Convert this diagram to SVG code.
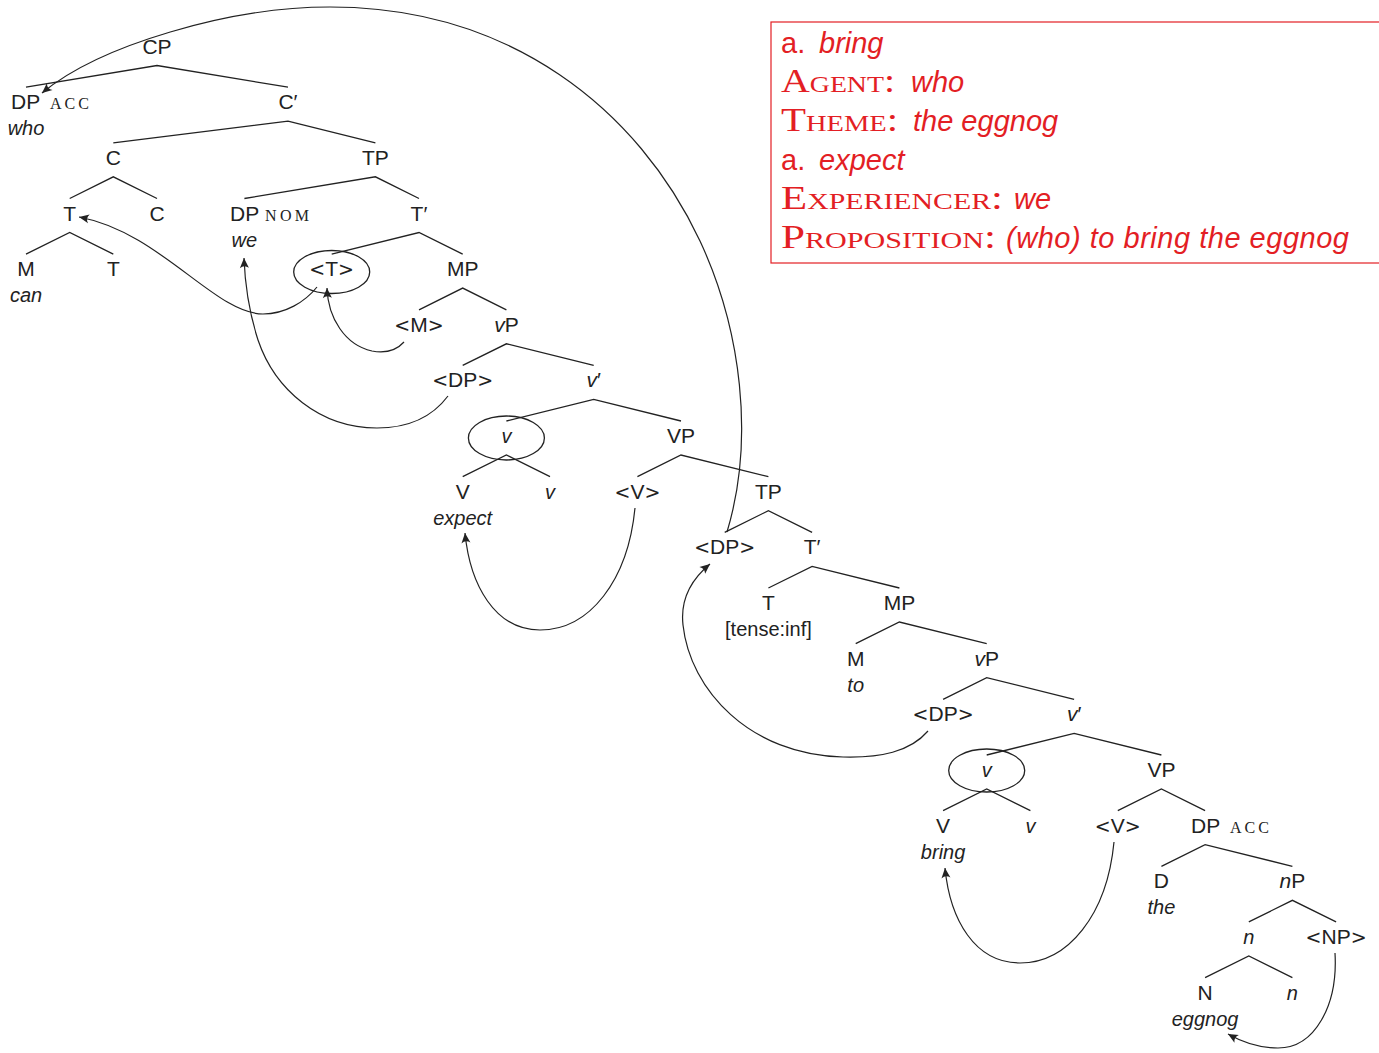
<svg xmlns="http://www.w3.org/2000/svg" width="1379" height="1053" viewBox="0 0 1379 1053">
<style>
.lbl{font-family:"Liberation Sans",Arial,sans-serif;font-size:21px;fill:#222;text-anchor:middle}
.br{font-family:"DejaVu Sans",sans-serif;font-size:19px}
.it{font-family:"Liberation Sans",Arial,sans-serif;font-size:20px;font-style:italic;fill:#222;text-anchor:middle}
.sc{font-family:"Liberation Serif","Times New Roman",serif;font-size:16px;fill:#222}
.edge{stroke:#222;stroke-width:1.3;fill:none}
.arr{stroke:#222;stroke-width:1.2;fill:none;marker-end:url(#ah)}
.circ{fill:none;stroke:#222;stroke-width:1.3}
.red{fill:#e31e24}
.rs{font-family:"Liberation Sans",Arial,sans-serif;font-size:29px}
.ri{font-family:"Liberation Sans",Arial,sans-serif;font-size:29px;font-style:italic}
.rc{font-family:"Liberation Serif","Times New Roman",serif;font-size:33px;font-variant:small-caps}
</style>
<defs>
<marker id="ah" viewBox="-12 -6 14 12" refX="0" refY="0" markerWidth="14" markerHeight="12" markerUnits="userSpaceOnUse" orient="auto">
<path d="M0,0 L-10,-4.5 Q-6.5,0 -10,4.5 Z" fill="#222"/>
</marker>
</defs>
<rect width="1379" height="1053" fill="#fff"/>

<g id="connectors">
<g id="tree-edges" class="edge">
<polyline points="26,87.2 157,65.5 288,87.2"/>
<polyline points="113.3,142.8 288,121.2 375.4,142.8"/>
<polyline points="69.7,198.5 113.3,176.8 157,198.5"/>
<polyline points="244.4,198.5 375.4,176.8 419,198.5"/>
<polyline points="26,254.1 69.7,232.5 113.3,254.1"/>
<polyline points="331.7,254.1 419,232.5 462.7,254.1"/>
<polyline points="419,309.8 462.7,288.1 506.4,309.8"/>
<polyline points="462.7,365.4 506.4,343.8 593.7,365.4"/>
<polyline points="506.4,421 593.7,399.4 681,421"/>
<polyline points="462.7,476.7 506.4,455 550,476.7"/>
<polyline points="637.4,476.7 681,455 768.4,476.7"/>
<polyline points="724.7,532.4 768.4,510.7 812.1,532.4"/>
<polyline points="768.4,588 812.1,566.4 899.4,588"/>
<polyline points="855.7,643.7 899.4,622 986.7,643.7"/>
<polyline points="943.1,699.3 986.7,677.7 1074.1,699.3"/>
<polyline points="986.7,755 1074.1,733.3 1161.4,755"/>
<polyline points="943.1,810.6 986.7,789 1030.4,810.6"/>
<polyline points="1117.8,810.6 1161.4,789 1205.1,810.6"/>
<polyline points="1161.4,866.3 1205.1,844.6 1292.4,866.3"/>
<polyline points="1248.8,921.9 1292.4,900.3 1336.1,921.9"/>
<polyline points="1205.1,977.6 1248.8,955.9 1292.4,977.6"/>
</g>
<g id="movement-arrows">
<path class="arr" d="M727,532 C755,439 741,329 700,241 C638,109 510,7 330,7 C230,7 100,45 42,93"/>
<path class="arr" d="M317,287 C305,302 285,314 263,314 C215,314 160,232 79,217"/>
<path class="arr" d="M448,396 C430,420 405,428 377,428 C320,428 275,390 258,340 C250,315 245,285 244,258"/>
<path class="arr" d="M404,342 C395,352 383,353 372,351 C345,345 328,318 327,288"/>
<path class="arr" d="M635,508 C628,580 590,630 540,630 C495,630 470,585 465,533"/>
<path class="arr" d="M928,731 C910,752 880,758 843,757 C750,755 690,690 683,625 C680,598 693,578 710,564"/>
<path class="arr" d="M1114,842 C1107,915 1068,963 1020,963 C975,963 950,920 945,868"/>
<path class="arr" d="M1335,953 C1338,1005 1315,1048 1278,1048 C1258,1048 1242,1042 1228,1034"/>
</g>
</g>

<g id="n-CP"><text class="lbl" x="157" y="53.5">CP</text></g>
<g id="n-DPacc1"><text class="lbl" x="11" y="109.2" style="text-anchor:start">DP</text><text class="sc" x="50" y="109.2" textLength="39" lengthAdjust="spacing">ACC</text><text class="it" x="26" y="135.2">who</text></g>
<g id="n-Cbar"><text class="lbl" x="288" y="109.2">C′</text></g>
<g id="n-C1"><text class="lbl" x="113.3" y="164.8">C</text></g>
<g id="n-TP1"><text class="lbl" x="375.4" y="164.8">TP</text></g>
<g id="n-T1"><text class="lbl" x="69.7" y="220.5">T</text></g>
<g id="n-C2"><text class="lbl" x="157" y="220.5">C</text></g>
<g id="n-DPnom"><text class="lbl" x="230" y="220.5" style="text-anchor:start">DP</text><text class="sc" x="265" y="220.5" textLength="44" lengthAdjust="spacing">NOM</text><text class="it" x="244.4" y="246.5">we</text></g>
<g id="n-Tbar1"><text class="lbl" x="419" y="220.5">T′</text></g>
<g id="n-M1"><text class="lbl" x="26" y="276.1">M</text><text class="it" x="26" y="302.1">can</text></g>
<g id="n-T2"><text class="lbl" x="113.3" y="276.1">T</text></g>
<g id="n-Ttrace"><ellipse class="circ" cx="331.7" cy="272" rx="38" ry="21.5"/><text class="lbl" x="331.7" y="276.1"><tspan class="br">&lt;</tspan>T<tspan class="br">&gt;</tspan></text></g>
<g id="n-MP1"><text class="lbl" x="462.7" y="276.1">MP</text></g>
<g id="n-Mtrace"><text class="lbl" x="419" y="331.8"><tspan class="br">&lt;</tspan>M<tspan class="br">&gt;</tspan></text></g>
<g id="n-vP1"><text class="lbl" x="506.4" y="331.8"><tspan font-style="italic">v</tspan>P</text></g>
<g id="n-DPtrace1"><text class="lbl" x="462.7" y="387.4"><tspan class="br">&lt;</tspan>DP<tspan class="br">&gt;</tspan></text></g>
<g id="n-vbar1"><text class="lbl" x="593.7" y="387.4"><tspan font-style="italic">v</tspan>′</text></g>
<g id="n-v1"><ellipse class="circ" cx="506.4" cy="438" rx="38" ry="22"/><text class="it" x="506.4" y="443.1">v</text></g>
<g id="n-VP1"><text class="lbl" x="681" y="443.1">VP</text></g>
<g id="n-V1"><text class="lbl" x="462.7" y="498.7">V</text><text class="it" x="462.7" y="524.7">expect</text></g>
<g id="n-v1b"><text class="it" x="550" y="498.7">v</text></g>
<g id="n-Vtrace1"><text class="lbl" x="637.4" y="498.7"><tspan class="br">&lt;</tspan>V<tspan class="br">&gt;</tspan></text></g>
<g id="n-TP2"><text class="lbl" x="768.4" y="498.7">TP</text></g>
<g id="n-DPtrace2"><text class="lbl" x="724.7" y="554.4"><tspan class="br">&lt;</tspan>DP<tspan class="br">&gt;</tspan></text></g>
<g id="n-Tbar2"><text class="lbl" x="812.1" y="554.4">T′</text></g>
<g id="n-T3"><text class="lbl" x="768.4" y="610">T</text><text class="lbl" x="768.4" y="636" style="font-size:20px">[tense:inf]</text></g>
<g id="n-MP2"><text class="lbl" x="899.4" y="610">MP</text></g>
<g id="n-M2"><text class="lbl" x="855.7" y="665.7">M</text><text class="it" x="855.7" y="691.7">to</text></g>
<g id="n-vP2"><text class="lbl" x="986.7" y="665.7"><tspan font-style="italic">v</tspan>P</text></g>
<g id="n-DPtrace3"><text class="lbl" x="943.1" y="721.3"><tspan class="br">&lt;</tspan>DP<tspan class="br">&gt;</tspan></text></g>
<g id="n-vbar2"><text class="lbl" x="1074.1" y="721.3"><tspan font-style="italic">v</tspan>′</text></g>
<g id="n-v2"><ellipse class="circ" cx="986.7" cy="770.5" rx="38" ry="21.5"/><text class="it" x="986.7" y="777">v</text></g>
<g id="n-VP2"><text class="lbl" x="1161.4" y="777">VP</text></g>
<g id="n-V2"><text class="lbl" x="943.1" y="832.6">V</text><text class="it" x="943.1" y="858.6">bring</text></g>
<g id="n-v2b"><text class="it" x="1030.4" y="832.6">v</text></g>
<g id="n-Vtrace2"><text class="lbl" x="1117.8" y="832.6"><tspan class="br">&lt;</tspan>V<tspan class="br">&gt;</tspan></text></g>
<g id="n-DPacc2"><text class="lbl" x="1191" y="832.6" style="text-anchor:start">DP</text><text class="sc" x="1230" y="832.6" textLength="39" lengthAdjust="spacing">ACC</text></g>
<g id="n-D"><text class="lbl" x="1161.4" y="888.3">D</text><text class="it" x="1161.4" y="914.3">the</text></g>
<g id="n-nP"><text class="lbl" x="1292.4" y="888.3"><tspan font-style="italic">n</tspan>P</text></g>
<g id="n-n1"><text class="it" x="1248.8" y="943.9">n</text></g>
<g id="n-NPtrace"><text class="lbl" x="1336.1" y="943.9"><tspan class="br">&lt;</tspan>NP<tspan class="br">&gt;</tspan></text></g>
<g id="n-N"><text class="lbl" x="1205.1" y="999.6">N</text><text class="it" x="1205.1" y="1025.6">eggnog</text></g>
<g id="n-n2"><text class="it" x="1292.4" y="999.6">n</text></g>

<g id="theta-box">
<rect x="771" y="22" width="640" height="241" fill="none" stroke="#e31e24" stroke-width="1.2"/>
<text class="red rs" x="781" y="53">a.</text><text class="red ri" x="819" y="53">bring</text>
<text class="red rc" x="781" y="92" textLength="114" lengthAdjust="spacingAndGlyphs">Agent:</text><text class="red ri" x="911" y="92">who</text>
<text class="red rc" x="781" y="131" textLength="117" lengthAdjust="spacingAndGlyphs">Theme:</text><text class="red ri" x="913" y="131">the eggnog</text>
<text class="red rs" x="781" y="170">a.</text><text class="red ri" x="819" y="170">expect</text>
<text class="red rc" x="781" y="209" textLength="222" lengthAdjust="spacingAndGlyphs">Experiencer:</text><text class="red ri" x="1014" y="209">we</text>
<text class="red rc" x="781" y="248" textLength="215" lengthAdjust="spacingAndGlyphs">Proposition:</text><text class="red ri" x="1006" y="248" textLength="343" lengthAdjust="spacing">(who) to bring the eggnog</text>
</g>
</svg>
